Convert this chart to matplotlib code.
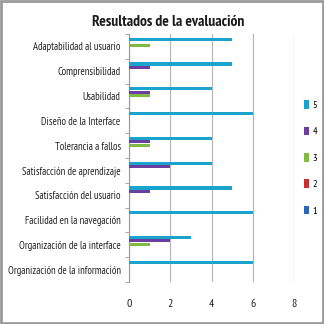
import matplotlib.pyplot as plt
import numpy as np

categorias = ["Adaptabilidad al usuario", "Comprensibilidad", "Usabilidad",
              "Diseño de la Interface", "Tolerancia a fallos",
              "Satisfacción de aprendizaje", "Satisfacción del usuario",
              "Facilidad en la navegación", "Organización de la interface",
              "Organización de la información"]
series = ["5", "4", "3", "2", "1"]
v5 = [5, 5, 4, 6, 4, 4, 5, 6, 3, 6]
v4 = [0, 1, 1, 0, 1, 2, 1, 0, 2, 0]
v3 = [1, 0, 1, 0, 1, 0, 0, 0, 1, 0]
v2 = [0, 0, 0, 0, 0, 0, 0, 0, 0, 0]
v1 = [0, 0, 0, 0, 0, 0, 0, 0, 0, 0]
colores = ["#1aa3cc", "#6b3fa0", "#7dbb42", "#c9302c", "#2a66b8"]

plt.rcParams['font.family'] = ['Ubuntu Condensed', 'PT Sans Narrow', 'Roboto Condensed',
                               'Archivo Narrow', 'Liberation Sans Narrow', 'DejaVu Sans']

fig = plt.figure(figsize=(3.24, 3.24), dpi=100)
ax = fig.add_axes([129/324, 1 - 282/324, 165/324, 248/324])

n = len(categorias)
y = np.arange(n)  # 0 = arriba
h = 0.135
for i, (nombre, vals, c) in enumerate(zip(series, [v5, v4, v3, v2, v1], colores)):
    off = (i - 2) * h - 0.02
    ax.barh(y + off, vals, height=h * 0.92, color=c, label=nombre, zorder=3)

ax.set_ylim(n - 0.5, -0.5)
ax.set_xlim(0, 8)
ax.set_xticks([0, 2, 4, 6, 8])
ax.set_yticks(y)
ax.set_yticklabels(categorias, fontsize=7.6, color="#222222")
ax.tick_params(axis='y', length=0, pad=6)
ax.tick_params(axis='x', length=0, pad=12, labelsize=8.5, colors="#222222")
ax.set_yticks(np.arange(n + 1) - 0.5, minor=True)
ax.tick_params(axis='y', which='minor', length=3, color="#999999")
ax.grid(axis='x', color="#b8b8b8", linewidth=0.9, zorder=0)
for s in ["top", "right", "bottom"]:
    ax.spines[s].set_visible(False)
ax.spines["left"].set_color("#999999")

fig.text(0.52, 1 - 22/324, "Resultados de la evaluación", ha='center', va='center',
         fontsize=11.2, fontweight='bold', color="#1a1a1a")

leg = fig.legend(loc='upper left', bbox_to_anchor=(300/324, 1 - 96/324), frameon=False,
                 fontsize=7.5, handlelength=0.5, handleheight=0.9, labelspacing=1.58,
                 handletextpad=0.3, borderaxespad=0)

# marco exterior
fig.patches.append(plt.Rectangle((0.004, 0.004), 0.992, 0.992, transform=fig.transFigure,
                                 fill=False, edgecolor="#9a9a9a", linewidth=2))

fig.savefig("out.png", dpi=100)
